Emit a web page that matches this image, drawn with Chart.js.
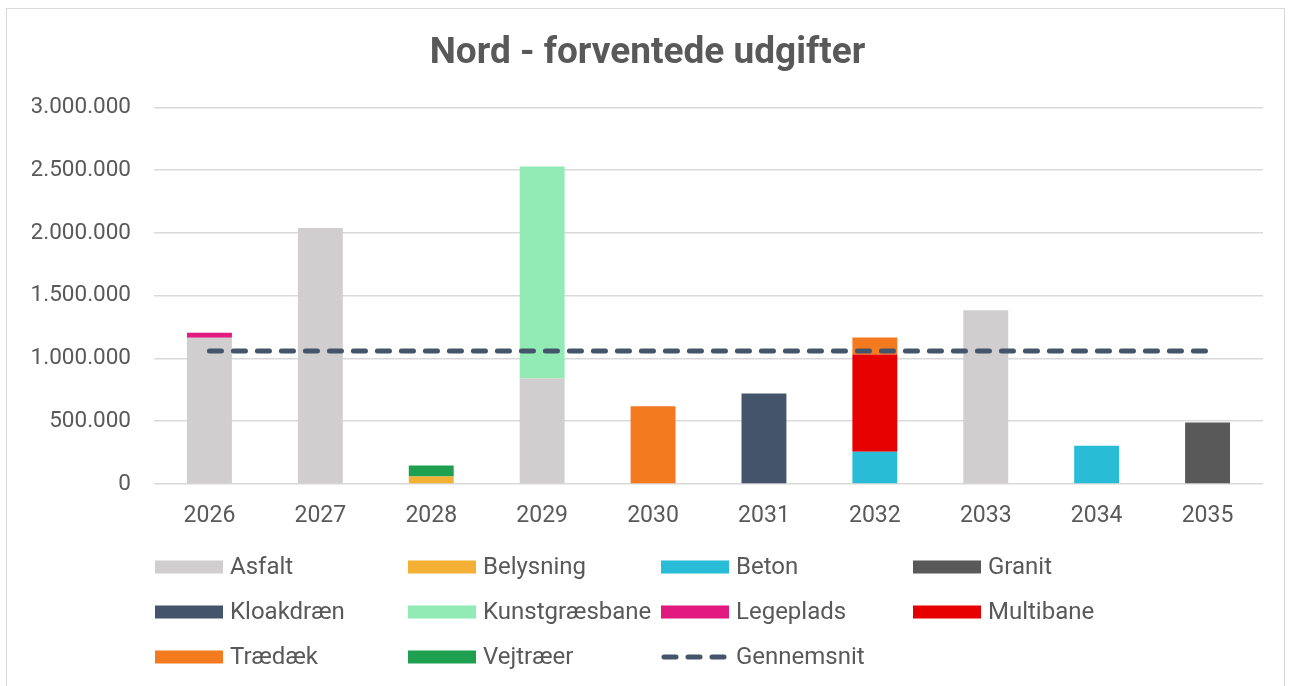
<!DOCTYPE html>
<html>
<head>
<meta charset="utf-8">
<script src="https://cdn.jsdelivr.net/npm/chart.js@4"></script>
<style>
  body { margin: 0; background: #fff; }
  #frame {
    position: absolute; left: 6px; top: 8px; width: 1277px; height: 700px;
    border: 1.5px solid #d9d9d9;
  }
  #nord-chart { position: absolute; left: 0; top: 0; }
</style>
</head>
<body>
<div id="frame"></div>
<canvas id="nord-chart" width="1291" height="686"></canvas>
<script>
const years = ['2026', '2027', '2028', '2029', '2030', '2031', '2032', '2033', '2034', '2035'];

const asfalt       = [1165000, 2040000, 0, 840000, 0, 0, 0, 1385000, 0, 0];
const belysning    = [0, 0, 60000, 0, 0, 0, 0, 0, 0, 0];
const beton        = [0, 0, 0, 0, 0, 0, 257000, 0, 305000, 0];
const granit       = [0, 0, 0, 0, 0, 0, 0, 0, 0, 490000];
const kloakdraen   = [0, 0, 0, 0, 0, 720000, 0, 0, 0, 0];
const kunstgraes   = [0, 0, 0, 1690000, 0, 0, 0, 0, 0, 0];
const legeplads    = [40000, 0, 0, 0, 0, 0, 0, 0, 0, 0];
const multibane    = [0, 0, 0, 0, 0, 0, 775000, 0, 0, 0];
const traedaek     = [0, 0, 0, 0, 620000, 0, 135000, 0, 0, 0];
const vejtraeer    = [0, 0, 88000, 0, 0, 0, 0, 0, 0, 0];
const gennemsnit   = [1060000, 1060000, 1060000, 1060000, 1060000, 1060000, 1060000, 1060000, 1060000, 1060000];

const yTicks = [0, 500000, 1000000, 1500000, 2000000, 2500000, 3000000];

const textColor = '#595959';
const font = 'Roboto';

function bar(label, data, color) {
    return {
        type: 'bar',
        label: label,
        data: data,
        backgroundColor: color,
        borderWidth: 0,
        categoryPercentage: 1,
        barPercentage: 0.405,
        stack: 'bars',
        order: 1
    };
}

// legend in a fixed 4 column grid, like the excel one
const gridLegend = {
    id: 'gridLegend',
    afterDraw(chart) {
        const ctx = chart.ctx;
        const cols = [155, 408, 661, 913];
        const rows = [567, 612, 657];
        ctx.save();
        ctx.font = '24px ' + font;
        ctx.textBaseline = 'middle';
        ctx.fillStyle = textColor;
        chart.data.datasets.forEach((ds, i) => {
            const x = cols[i % 4];
            const y = rows[Math.floor(i / 4)];
            if (ds.type === 'line') {
                ctx.strokeStyle = ds.borderColor;
                ctx.lineWidth = ds.borderWidth;
                ctx.lineCap = 'round';
                ctx.setLineDash([12, 12]);
                ctx.beginPath();
                ctx.moveTo(x + 3, y);
                ctx.lineTo(x + 68, y);
                ctx.stroke();
                ctx.setLineDash([]);
            } else {
                ctx.fillStyle = ds.backgroundColor;
                ctx.fillRect(x, y - 6.5, 68, 13);
            }
            ctx.fillStyle = textColor;
            ctx.fillText(ds.label, x + 75, y + 1);
        });
        ctx.restore();
    }
};

new Chart(document.getElementById('nord-chart'), {
    data: {
        labels: years,
        datasets: [
            bar('Asfalt', asfalt, '#d0cece'),
            bar('Belysning', belysning, '#f4b034'),
            bar('Beton', beton, '#28bcd6'),
            bar('Granit', granit, '#595959'),
            bar('Kloakdræn', kloakdraen, '#44546a'),
            bar('Kunstgræsbane', kunstgraes, '#92ebb5'),
            bar('Legeplads', legeplads, '#e2197f'),
            bar('Multibane', multibane, '#e60000'),
            bar('Trædæk', traedaek, '#f47a20'),
            bar('Vejtræer', vejtraeer, '#1fa050'),
            {
                type: 'line',
                label: 'Gennemsnit',
                data: gennemsnit,
                borderColor: '#44546a',
                borderWidth: 5,
                borderDash: [12, 12],
                borderCapStyle: 'round',
                pointRadius: 0,
                fill: false,
                stack: 'avg',
                order: 0
            }
        ]
    },
    options: {
        responsive: false,
        animation: false,
        events: [],
        layout: {
            padding: { left: 32, right: 28, top: 0, bottom: 152 }
        },
        plugins: {
            legend: { display: false },
            tooltip: { enabled: false },
            title: {
                display: true,
                text: 'Nord - forventede udgifter',
                color: textColor,
                font: { family: font, size: 37, weight: 'bold', lineHeight: 1.2 },
                padding: { top: 32, bottom: 31 }
            }
        },
        scales: {
            x: {
                stacked: true,
                grid: { display: false, drawTicks: false },
                border: { display: false },
                ticks: {
                    color: textColor,
                    font: { family: font, size: 23 },
                    padding: 18
                },
                afterFit(scale) { scale.height = 50; }
            },
            y: {
                stacked: true,
                min: yTicks[0],
                max: yTicks[yTicks.length - 1],
                afterBuildTicks(scale) {
                    scale.ticks = yTicks.map(v => ({ value: v }));
                },
                grid: { color: '#d9d9d9', lineWidth: 1.5, drawTicks: false },
                border: { display: false },
                ticks: {
                    color: textColor,
                    font: { family: font, size: 22.5 },
                    padding: 23,
                    callback: v => v.toString().replace(/\B(?=(\d{3})+(?!\d))/g, '.')
                },
                afterFit(scale) { scale.width = 122; }
            }
        }
    },
    plugins: [gridLegend]
});
</script>
</body>
</html>
